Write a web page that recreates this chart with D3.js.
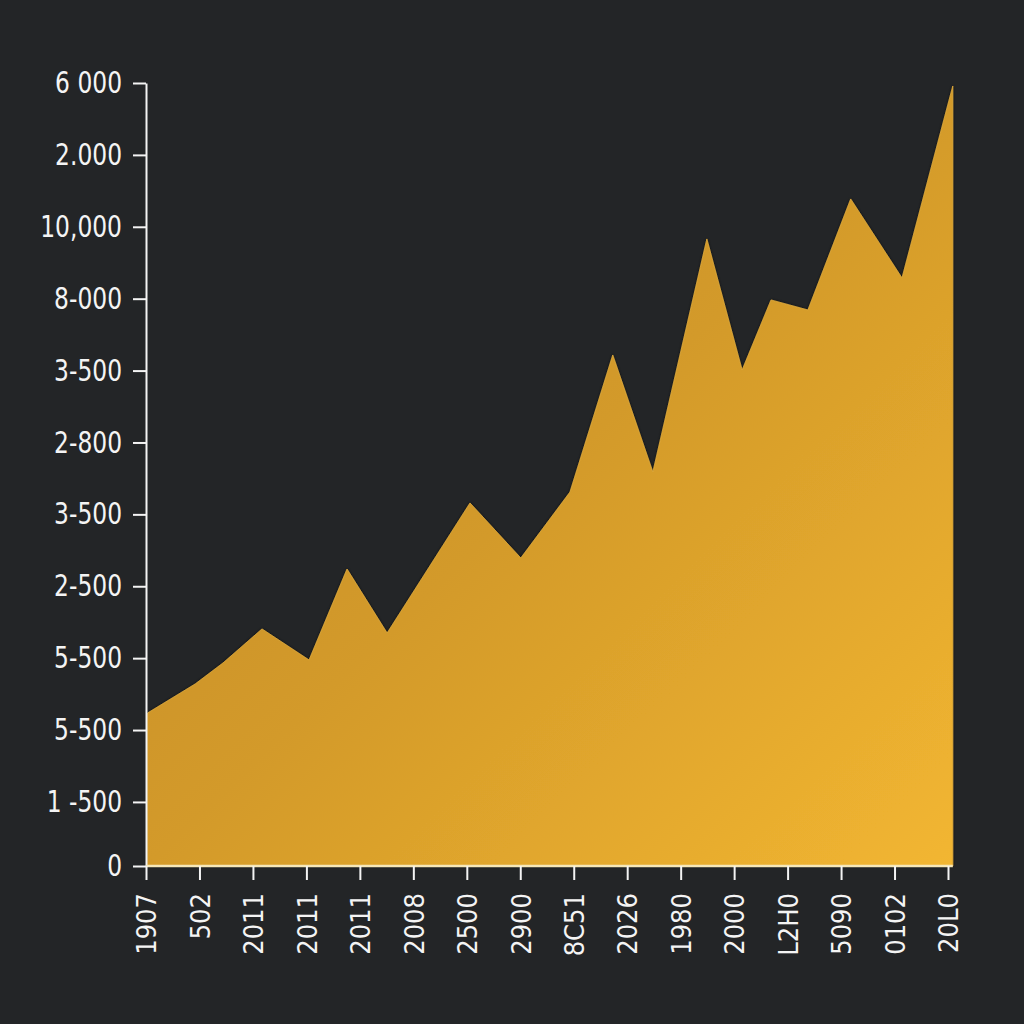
<!DOCTYPE html>
<html>
<head>
<meta charset="utf-8">
<script src="https://cdn.jsdelivr.net/npm/d3@7/dist/d3.min.js"></script>
<style>
  html, body { margin: 0; padding: 0; background: #232527; }
  svg { display: block; }
</style>
</head>
<body>
<script>
// ---- data ----
const xTickLabels = ["1907","502","2011","2011","2011","2008","2500","2900","8C51","2026","1980","2000","L2H0","5090","0102","20L0"];
const yTickValues = [0, 900, 1910, 2920, 3930, 4940, 5950, 6960, 7970, 8980, 9990, 11000];
const yTickLabels = ["0","1 -500","5-500","5-500","2-500","3-500","2-800","3-500","8-000","10,000","2.000","6 000"];
// series: position along the x axis (in tick units) and value
const seriesX = [0.03, 0.92, 1.44, 2.17, 3.05, 3.76, 4.51, 6.06, 7.01, 7.93, 8.73, 9.48, 10.49, 11.15, 11.69, 12.38, 13.18, 14.14, 15.09];
const seriesY = [2149, 2557, 2852, 3330, 2894, 4172, 3273, 5100, 4327, 5254, 7179, 5535, 8809, 6968, 7952, 7811, 9371, 8261, 10958];

const W = 1024, H = 1024;
const svg = d3.select("body").append("svg").attr("width", W).attr("height", H);
svg.append("rect").attr("width", W).attr("height", H).attr("fill", "#232527");

const x = d3.scaleLinear().domain([0, xTickLabels.length - 1]).range([146, 948]);
const y = d3.scaleLinear().domain([0, 11000]).range([866, 83]);

const defs = svg.append("defs");
const grad = defs.append("linearGradient").attr("id", "fillGrad")
  .attr("x1", "0").attr("y1", "0").attr("x2", "1").attr("y2", "1");
grad.append("stop").attr("offset", "0").attr("stop-color", "#c08828");
grad.append("stop").attr("offset", "0.5").attr("stop-color", "#d39a2a");
grad.append("stop").attr("offset", "1").attr("stop-color", "#f2b631");

const f = defs.append("filter").attr("id", "shadow").attr("x", "-5%").attr("y", "-5%").attr("width", "110%").attr("height", "110%");
f.append("feDropShadow").attr("dx", 0).attr("dy", 0).attr("stdDeviation", 1.5).attr("flood-color", "#000").attr("flood-opacity", 0.6);

const pts = seriesX.map((d, i) => ({ x: d, v: seriesY[i] }));
const area = d3.area().x(d => x(d.x)).y0(y(0)).y1(d => y(d.v)).curve(d3.curveLinear);
svg.append("path").datum(pts).attr("d", area)
  .attr("fill", "url(#fillGrad)")
  .attr("stroke", "#e2ad3c").attr("stroke-width", 1).attr("stroke-opacity", 0.8)
  .attr("filter", "url(#shadow)");

const font = "'DejaVu Sans Condensed', 'DejaVu Sans', sans-serif";

// y axis
const yAxis = d3.axisLeft(y).tickValues(yTickValues)
  .tickFormat((d, i) => yTickLabels[i]).tickSize(13).tickPadding(11).tickSizeOuter(0);
const gy = svg.append("g").attr("transform", "translate(146,0)").call(yAxis);
gy.select(".domain").attr("stroke", "#f4f4f4").attr("stroke-width", 2);
gy.selectAll(".tick line").attr("stroke", "#f4f4f4").attr("stroke-width", 2);
gy.selectAll(".tick text").attr("fill", "#f4f4f4").style("font-family", font).style("font-size", "26px")
  .attr("transform", "scale(1,1.15)");

// x axis
const xAxis = d3.axisBottom(x).tickValues(d3.range(xTickLabels.length))
  .tickFormat((d, i) => xTickLabels[i]).tickSize(14).tickPadding(12).tickSizeOuter(0);
const gx = svg.append("g").attr("transform", "translate(0,866)").call(xAxis);
gx.select(".domain").attr("stroke", "#f6e7b8").attr("stroke-width", 2.5)
  .attr("d", `M146,0H${x(seriesX[seriesX.length - 1])}`);
gx.selectAll(".tick line").attr("stroke", "#f4f4f4").attr("stroke-width", 2);
gx.selectAll(".tick text").attr("fill", "#f4f4f4").style("font-family", font).style("font-size", "27px")
  .attr("text-anchor", "end").attr("transform", "rotate(-90)")
  .attr("x", -27).attr("y", 0).attr("dy", "0.36em");
</script>
</body>
</html>
